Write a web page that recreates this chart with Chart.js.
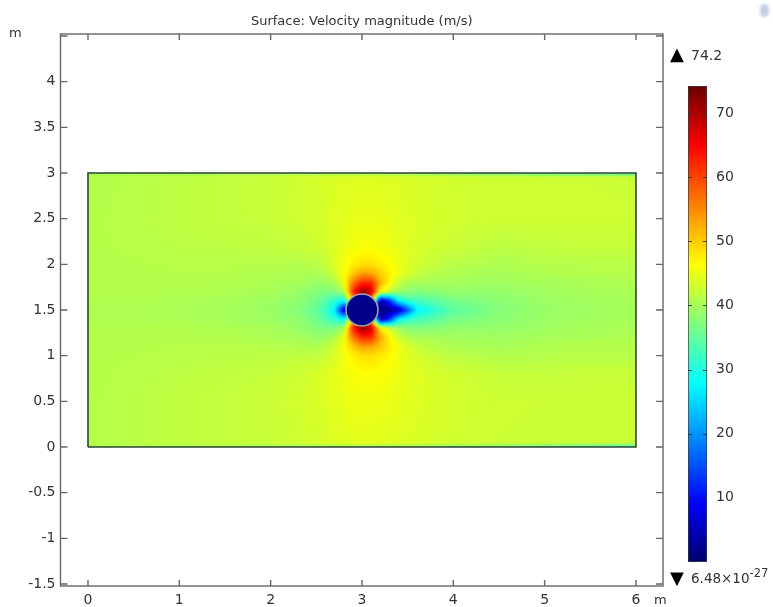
<!DOCTYPE html>
<html>
<head>
<meta charset="utf-8">
<title>Surface: Velocity magnitude</title>
<script src="https://cdn.jsdelivr.net/npm/chart.js@4/dist/chart.umd.min.js"></script>
<style>
    html, body { margin: 0; padding: 0; background: #fff; }
    #wrap { position: relative; width: 773px; height: 607px; overflow: hidden; }
    #surfaceChart { position: absolute; left: 0; top: 0; }
    #colorChart { position: absolute; left: 640px; top: 0; }
    #logo { position: absolute; left: 760px; top: 4px; width: 9px; height: 13px; border-radius: 5px; background: #c3cfe6; filter: blur(1.5px); }
</style>
</head>
<body>
<div id="wrap">
    <canvas id="surfaceChart" width="773" height="607"></canvas>
    <canvas id="colorChart" width="133" height="607"></canvas>
    <div id="logo"></div>
</div>
<script>
const chartTitle = 'Surface: Velocity magnitude (m/s)';
const xTickValues = [0, 1, 2, 3, 4, 5, 6];
const yTickValues = [-1.5, -1, -0.5, 0, 0.5, 1, 1.5, 2, 2.5, 3, 3.5, 4, 4.5];
const colorTickValues = [10, 20, 30, 40, 50, 60, 70];
const maxLabel = '74.2';
const minLabel = '6.48×10';
const minLabelPower = '-27';

// grid of the velocity magnitude (m/s)
// values hidden under the cylinder only set the color right at its edge
const gridX = [0, 0.5, 1, 1.5, 2, 2.3, 2.5, 2.6, 2.7, 2.8, 2.9, 3, 3.1, 3.2, 3.3, 3.4, 3.5, 3.6, 3.8, 4, 4.5, 5, 5.5, 6];
const gridY = [0, 0.04, 0.5, 0.8, 1, 1.1, 1.2, 1.3, 1.4, 1.5, 1.6, 1.7, 1.8, 1.9, 2, 2.2, 2.5, 2.96, 3];
const speedRows = [
    [40, 40, 40, 40, 39.5, 39.5, 39, 39, 39, 39, 39, 39, 39, 38.5, 38.5, 38.5, 38.5, 38, 37.5, 37, 36, 34, 32, 30],
    [41, 41.4, 41.8, 42.1, 42.4, 42.9, 43.3, 43.5, 43.8, 44, 44.2, 44.3, 44.3, 44.2, 44.1, 44, 43.8, 43.6, 43.3, 43, 42.7, 42.6, 42.5, 42.5],
    [41, 41.4, 41.8, 42.1, 42.5, 43.1, 43.6, 44, 44.4, 44.8, 45.1, 45.2, 45.2, 45.1, 44.9, 44.6, 44.3, 44.1, 43.6, 43.2, 42.8, 42.7, 42.7, 42.7],
    [41, 41.2, 41.6, 41.9, 42.2, 42.8, 43.4, 44, 44.6, 45.2, 45.8, 46.2, 46.2, 46, 45.6, 45, 44.6, 44.2, 43.5, 43, 42.2, 42.2, 42.3, 42.3],
    [41, 41.1, 41.3, 41.4, 41.5, 41.7, 42, 42.6, 43.7, 45.5, 47.5, 48.5, 48.8, 48, 46.8, 45.3, 44.2, 43.3, 42.3, 41.5, 40.8, 41, 41.2, 41.2],
    [41, 41, 41.1, 41.1, 41, 40.8, 40.5, 41.2, 43, 46, 50, 53.5, 53, 50.5, 48, 45.5, 43.6, 42.5, 41, 40.5, 40, 40.6, 41, 41],
    [41, 41, 41, 40.8, 40.4, 40, 39, 39.2, 40.5, 45, 56, 62, 62, 53, 47, 43, 41, 40, 40, 39.8, 39.5, 40, 40.3, 40.5],
    [41, 41, 40.8, 40.5, 40, 39, 37.5, 37, 37, 40.5, 62, 72, 68, 48, 43, 39.5, 38, 37.5, 38, 38.7, 38.7, 39.5, 40, 40.3],
    [40.5, 40.5, 40.3, 40, 39.3, 38.5, 36, 34, 31, 28, 50, 72, 55, 3, 12, 27, 31.5, 32.5, 34.5, 36.5, 38, 39.2, 39.6, 40],
    [40.5, 40.5, 40.3, 40, 39, 37.5, 35, 32, 27, 6, 1, 1, 1, 1, 2, 4, 15, 27, 31, 34.5, 37.5, 39, 39.5, 39.8],
    [40.5, 40.5, 40.3, 40, 39.3, 38.5, 36, 34, 31, 28, 50, 72, 55, 3, 12, 27, 31.5, 32.5, 34.5, 36.5, 38, 39.2, 39.6, 40],
    [41, 41, 40.8, 40.5, 40, 39, 37.5, 37, 37, 40.5, 62, 72, 68, 47, 42, 39, 38, 37.5, 38, 38.5, 38.7, 39.5, 40, 40.3],
    [41, 41, 41, 40.8, 40.4, 40, 39, 39.2, 40.5, 45, 56, 62, 62, 52, 47, 42.5, 40.5, 40, 40, 39.8, 39.5, 40, 40.3, 40.5],
    [41, 41, 41, 41, 40.7, 40.5, 40.3, 41, 43, 46, 50, 53.5, 53, 50, 47.5, 45, 43.5, 42.3, 41, 40.5, 40, 40.5, 41, 41],
    [41, 41, 41.2, 41.2, 41, 41, 41.3, 42, 43.8, 45.5, 47.5, 48.5, 48.5, 47.5, 46.5, 45, 44, 43, 42, 41.3, 40.5, 41, 41.2, 41.2],
    [41, 41.2, 41.5, 41.6, 41.8, 42.2, 42.8, 43.3, 44, 44.6, 45.3, 45.8, 45.8, 45.5, 45, 44.5, 44, 43.6, 43, 42.5, 41.5, 42, 42.2, 42.2],
    [41, 41.3, 41.7, 42, 42.3, 42.9, 43.3, 43.6, 44, 44.3, 44.6, 44.8, 44.8, 44.7, 44.5, 44.2, 44, 43.8, 43.4, 43.1, 42.8, 42.8, 42.8, 42.8],
    [40.8, 41.2, 41.6, 42, 42.4, 43, 43.3, 43.5, 43.7, 43.8, 43.9, 44, 44, 43.9, 43.8, 43.7, 43.6, 43.4, 43.2, 43, 42.8, 42.7, 42.7, 42.6],
    [40, 40, 39.5, 39.5, 39, 39, 38.5, 38.5, 38.5, 38.5, 38.5, 38.5, 38.5, 38, 38, 38, 38, 37.5, 37, 36.5, 35, 34, 33, 31]
];

// domain outline and cylinder
const domainX = [0, 6, 6, 0, 0];
const domainY = [0, 0, 3, 3, 0];
const cylinderX = [3];
const cylinderY = [1.5];
const cylinderRadius = 0.175;

// rainbow color table of the plot
const colorStops = [0, 9.3, 27.8, 46.4, 64.9, 74.2];
const colorValues = [[0, 0, 106], [0, 0, 255], [0, 255, 255], [255, 255, 0], [255, 0, 0], [106, 0, 0]];

const fontName = '"DejaVu Sans", sans-serif';
const textColor = '#333';

function speedColor(v) {
    let i = 0;
    while (i < colorStops.length - 2 && v > colorStops[i + 1]) i++;
    const t = Math.min(1, Math.max(0, (v - colorStops[i]) / (colorStops[i + 1] - colorStops[i])));
    const a = colorValues[i], b = colorValues[i + 1];
    return [a[0] + (b[0] - a[0]) * t, a[1] + (b[1] - a[1]) * t, a[2] + (b[2] - a[2]) * t];
}

function gridIndex(list, v) {
    let i = 0;
    while (i < list.length - 2 && v > list[i + 1]) i++;
    return i;
}

function speedAt(x, y) {
    const i = gridIndex(gridX, x), j = gridIndex(gridY, y);
    const tx = (x - gridX[i]) / (gridX[i + 1] - gridX[i]);
    const ty = (y - gridY[j]) / (gridY[j + 1] - gridY[j]);
    const low = speedRows[j][i] * (1 - tx) + speedRows[j][i + 1] * tx;
    const high = speedRows[j + 1][i] * (1 - tx) + speedRows[j + 1][i + 1] * tx;
    return low * (1 - ty) + high * ty;
}

// paints the surface pixel by pixel through the chart scales
const surfacePlugin = {
    id: 'surface',
    beforeDatasetsDraw(chart) {
        const sx = chart.scales.x, sy = chart.scales.y;
        const left = Math.round(sx.getPixelForValue(0)), right = Math.round(sx.getPixelForValue(6));
        const top = Math.round(sy.getPixelForValue(3)), bottom = Math.round(sy.getPixelForValue(0));
        const w = right - left, h = bottom - top;
        const off = document.createElement('canvas');
        off.width = w;
        off.height = h;
        const offCtx = off.getContext('2d');
        const img = offCtx.createImageData(w, h);
        for (let py = 0; py < h; py++) {
            for (let px = 0; px < w; px++) {
                const v = speedAt(sx.getValueForPixel(left + px + 0.5), sy.getValueForPixel(top + py + 0.5));
                const c = speedColor(v);
                const k = (py * w + px) * 4;
                img.data[k] = c[0];
                img.data[k + 1] = c[1];
                img.data[k + 2] = c[2];
                img.data[k + 3] = 255;
            }
        }
        offCtx.putImageData(img, 0, 0);
        const ctx = chart.ctx;
        ctx.save();
        ctx.beginPath();
        ctx.rect(left, top, w, h);
        ctx.clip();
        ctx.drawImage(off, left, top);
        ctx.filter = 'blur(1px)';
        ctx.drawImage(off, left, top);
        ctx.restore();
    }
};

// frame with inward ticks on all four sides, plus the unit labels
const framePlugin = {
    id: 'frame',
    afterDraw(chart) {
        const ctx = chart.ctx, a = chart.chartArea;
        ctx.save();
        ctx.strokeStyle = '#666';
        ctx.lineWidth = 1.4;
        ctx.strokeRect(a.left, a.top, a.right - a.left, a.bottom - a.top);
        ctx.beginPath();
        xTickValues.forEach(function (v) {
            const p = chart.scales.x.getPixelForValue(v);
            ctx.moveTo(p, a.bottom); ctx.lineTo(p, a.bottom - 6);
            ctx.moveTo(p, a.top); ctx.lineTo(p, a.top + 6);
        });
        yTickValues.forEach(function (v) {
            const p = chart.scales.y.getPixelForValue(v);
            ctx.moveTo(a.left, p); ctx.lineTo(a.left + 7, p);
            ctx.moveTo(a.right, p); ctx.lineTo(a.right - 7, p);
        });
        ctx.stroke();
        ctx.fillStyle = textColor;
        ctx.font = '13px ' + fontName;
        ctx.textAlign = 'left';
        ctx.textBaseline = 'middle';
        ctx.fillText('m', 9, 34);
        ctx.fillText('m', 654, 601);
        ctx.restore();
    }
};

new Chart(document.getElementById('surfaceChart'), {
    type: 'scatter',
    data: {
        datasets: [{
            label: 'domain',
            data: domainX.map(function (x, i) { return { x: x, y: domainY[i] }; }),
            showLine: true,
            pointRadius: 0,
            borderColor: '#2c4630',
            borderWidth: 1.6,
            order: 2
        }, {
            label: 'cylinder',
            data: cylinderX.map(function (x, i) { return { x: x, y: cylinderY[i] }; }),
            backgroundColor: 'rgb(0, 0, 136)',
            borderColor: '#a8a8a8',
            borderWidth: 1.5,
            pointRadius: function (c) {
                const s = c.chart.scales.x;
                return s.getPixelForValue(cylinderRadius) - s.getPixelForValue(0);
            },
            order: 1
        }]
    },
    options: {
        responsive: false,
        animation: false,
        layout: { padding: { left: 0, right: 110, top: 0, bottom: 0 } },
        plugins: {
            legend: { display: false },
            tooltip: { enabled: false },
            title: {
                display: true,
                text: chartTitle,
                fullSize: false,
                color: textColor,
                font: { family: fontName, size: 13, weight: 'normal', lineHeight: 1.2 },
                padding: { top: 13.5, bottom: 4.9 }
            }
        },
        scales: {
            x: {
                type: 'linear',
                min: -0.301,
                max: 6.296,
                afterBuildTicks: function (s) { s.ticks = xTickValues.map(function (v) { return { value: v }; }); },
                afterFit: function (s) { s.height = 21; },
                grid: { display: false, drawTicks: false },
                border: { display: false },
                ticks: { color: textColor, padding: 6, maxRotation: 0, font: { family: fontName, size: 14 }, callback: function (v) { return String(v); } }
            },
            y: {
                type: 'linear',
                min: -1.522,
                max: 4.522,
                afterBuildTicks: function (s) { s.ticks = yTickValues.map(function (v) { return { value: v }; }); },
                afterFit: function (s) { s.width = 60.5; },
                grid: { display: false, drawTicks: false },
                border: { display: false },
                ticks: { color: textColor, padding: 5, font: { family: fontName, size: 14 }, callback: function (v) { return v === 4.5 ? '' : String(v); } }
            }
        }
    },
    plugins: [surfacePlugin, framePlugin]
});

// small ticks inside the bar and the max / min labels
const colorBarPlugin = {
    id: 'colorBar',
    afterDraw(chart) {
        const ctx = chart.ctx, a = chart.chartArea;
        ctx.save();
        ctx.strokeStyle = 'rgba(40, 40, 40, 0.8)';
        ctx.lineWidth = 1;
        ctx.beginPath();
        colorTickValues.forEach(function (v) {
            const p = Math.round(chart.scales.y.getPixelForValue(v)) + 0.5;
            ctx.moveTo(a.left, p); ctx.lineTo(a.left + 4, p);
            ctx.moveTo(a.right, p); ctx.lineTo(a.right - 4, p);
        });
        ctx.stroke();
        ctx.textBaseline = 'middle';
        ctx.textAlign = 'left';
        ctx.fillStyle = '#000';
        ctx.font = '18px ' + fontName;
        ctx.fillText('▲', 30, 55);
        ctx.fillText('▼', 30, 579);
        ctx.fillStyle = textColor;
        ctx.font = '14px ' + fontName;
        ctx.fillText(maxLabel, 51, 56);
        ctx.font = '13.5px ' + fontName;
        ctx.fillText(minLabel, 51, 579);
        const w = ctx.measureText(minLabel).width;
        ctx.font = '11.5px ' + fontName;
        ctx.fillText(minLabelPower, 51 + w, 574);
        ctx.restore();
    }
};

new Chart(document.getElementById('colorChart'), {
    type: 'bar',
    data: {
        labels: ['Velocity magnitude'],
        datasets: [{
            data: [colorStops[colorStops.length - 1]],
            barPercentage: 1,
            categoryPercentage: 1,
            borderWidth: 1,
            borderColor: '#3a3a3a',
            borderSkipped: false,
            backgroundColor: function (c) {
                const s = c.chart.scales.y;
                if (!s || !c.chart.chartArea) return '#000';
                const g = c.chart.ctx.createLinearGradient(0, s.getPixelForValue(0), 0, s.getPixelForValue(74.2));
                colorStops.forEach(function (v, i) {
                    const rgb = colorValues[i];
                    g.addColorStop(v / 74.2, 'rgb(' + rgb.join(',') + ')');
                });
                return g;
            }
        }]
    },
    options: {
        responsive: false,
        animation: false,
        layout: { padding: { left: 48, right: 0, top: 86, bottom: 45 } },
        plugins: { legend: { display: false }, tooltip: { enabled: false } },
        scales: {
            x: { display: false },
            y: {
                position: 'right',
                min: 0,
                max: 74.2,
                afterBuildTicks: function (s) { s.ticks = colorTickValues.map(function (v) { return { value: v }; }); },
                afterFit: function (s) { s.width = 66; },
                grid: { display: false, drawTicks: false },
                border: { display: false },
                ticks: { color: textColor, padding: 9, font: { family: fontName, size: 14 } }
            }
        }
    },
    plugins: [colorBarPlugin]
});
</script>
</body>
</html>
